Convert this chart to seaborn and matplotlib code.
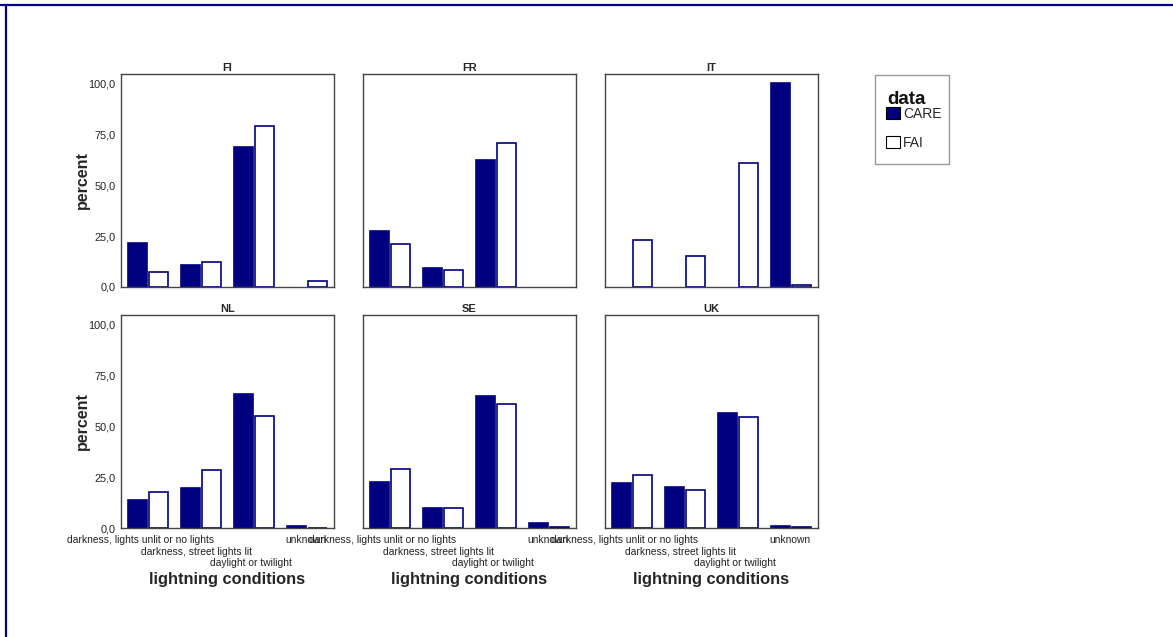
import numpy as np
import pandas as pd
import matplotlib
matplotlib.use("Agg")
import matplotlib.pyplot as plt
import matplotlib.transforms as mtrans
import seaborn as sns
from matplotlib.patches import Patch, Rectangle
from matplotlib.lines import Line2D

countries = ["FI", "FR", "IT", "NL", "SE", "UK"]
conditions = ["darkness, lights unlit or no lights", "darkness, street lights lit",
              "daylight or twilight", "unknown"]
series = ["CARE", "FAI"]

care_FI = [21.5, 10.9, 68.7, 0.0]
fai_FI = [7.2, 12.3, 79.0, 2.8]
care_FR = [27.5, 9.1, 62.5, 0.0]
fai_FR = [20.9, 8.3, 70.5, 0.0]
care_IT = [0.0, 0.0, 0.0, 100.0]
fai_IT = [23.2, 15.0, 61.0, 0.8]
care_NL = [13.7, 19.6, 65.5, 1.0]
fai_NL = [17.5, 28.3, 54.9, 0.2]
care_SE = [22.5, 9.8, 64.6, 2.4]
fai_SE = [28.9, 9.8, 60.8, 0.3]
care_UK = [22.1, 20.2, 56.5, 1.0]
fai_UK = [26.1, 18.6, 54.4, 0.4]

ytick_vals = [0, 25, 50, 75, 100]
ytick_labels = ["0,0", "25,0", "50,0", "75,0", "100,0"]

values = {
    "FI": (care_FI, fai_FI), "FR": (care_FR, fai_FR), "IT": (care_IT, fai_IT),
    "NL": (care_NL, fai_NL), "SE": (care_SE, fai_SE), "UK": (care_UK, fai_UK),
}
rows = []
for c in countries:
    for s, vals in zip(series, values[c]):
        for cond, v in zip(conditions, vals):
            rows.append({"country": c, "data": s, "condition": cond, "percent": v})
df = pd.DataFrame(rows)

sns.set_style("white")
plt.rcParams["font.family"] = ["Liberation Sans", "DejaVu Sans"]

NAVY = "#000080"
W, H = 1173, 637
fig = plt.figure(figsize=(W / 100, H / 100), dpi=100)

lefts = [121, 363, 605]
bottoms = [287, 528]
aw, ah = 213, 213
label_shift_px = [-7, -5, -3, -1]

for i, c in enumerate(countries):
    r, col = divmod(i, 3)
    ax = fig.add_axes([lefts[col] / W, 1 - bottoms[r] / H, aw / W, ah / H])
    sub = df[df["country"] == c]
    sns.barplot(data=sub, x="condition", y="percent", hue="data", order=conditions,
                hue_order=series, palette={"CARE": NAVY, "FAI": "white"},
                saturation=1, width=0.8, gap=0.1, edgecolor=NAVY, linewidth=1.2,
                legend=False, ax=ax, errorbar=None)
    for p in ax.patches:
        if p.get_height() == 0:
            p.set_visible(False)
    ax.set_xlim(-0.51, 3.51)
    ax.set_ylim(0, 104.5)
    ax.set_yticks(ytick_vals)
    for sp in ax.spines.values():
        sp.set_color("#444444")
        sp.set_linewidth(1.0)
    ax.tick_params(axis="x", length=3, width=3, color="black", direction="out", pad=2)
    ax.tick_params(axis="y", length=3, width=2.5, color="#444444", direction="out", pad=1)
    ax.set_title(c, fontsize=8, fontweight="heavy", pad=2)
    if col == 0:
        ax.set_yticklabels(ytick_labels, fontsize=7.8, color="#222222")
        ax.set_ylabel("percent", fontsize=11.5, fontweight="bold", labelpad=-1)
    else:
        ax.set_yticklabels([])
        ax.set_ylabel("")
    ax.set_xticks(range(4))
    if r == 1:
        labs = [conditions[0], "\n" + conditions[1], "\n\n" + conditions[2], conditions[3]]
        ax.set_xticklabels(labs, fontsize=7.4, color="#222222", linespacing=1.2)
        for t, sh in zip(ax.get_xticklabels(), label_shift_px):
            off = mtrans.ScaledTranslation(sh / 100, 0, fig.dpi_scale_trans)
            t.set_transform(t.get_transform() + off)
        ax.set_xlabel("lightning conditions", fontsize=11.8, fontweight="bold", labelpad=3)
    else:
        ax.set_xticklabels([])
        ax.set_xlabel("")

# legend box
fig.add_artist(Rectangle((875 / W, 1 - 164 / H), 74 / W, 89 / H, transform=fig.transFigure,
                         facecolor="white", edgecolor="#999999", linewidth=1.0))
fig.text(887 / W, 1 - 100 / H, "data", fontsize=13.5, fontweight="bold", color="#111111",
         ha="left", va="center")
handles = [Patch(facecolor=NAVY, edgecolor="black", linewidth=0.8, label="CARE"),
           Patch(facecolor="white", edgecolor="black", linewidth=0.8, label="FAI")]
leg = fig.legend(handles=handles, loc="upper left",
                 bbox_to_anchor=(886 / W, 1 - 107 / H), frameon=False,
                 fontsize=10, handlelength=1.0, handleheight=1.0, handletextpad=0.25,
                 borderpad=0, borderaxespad=0, labelspacing=1.05)

fig.add_artist(Line2D([0, 1], [1 - 5 / H, 1 - 5 / H], transform=fig.transFigure,
                      color=NAVY, linewidth=1.6))
fig.add_artist(Line2D([6 / W, 6 / W], [0, 1 - 5 / H], transform=fig.transFigure,
                      color=NAVY, linewidth=1.6))

fig.savefig("out.png", dpi=100)
